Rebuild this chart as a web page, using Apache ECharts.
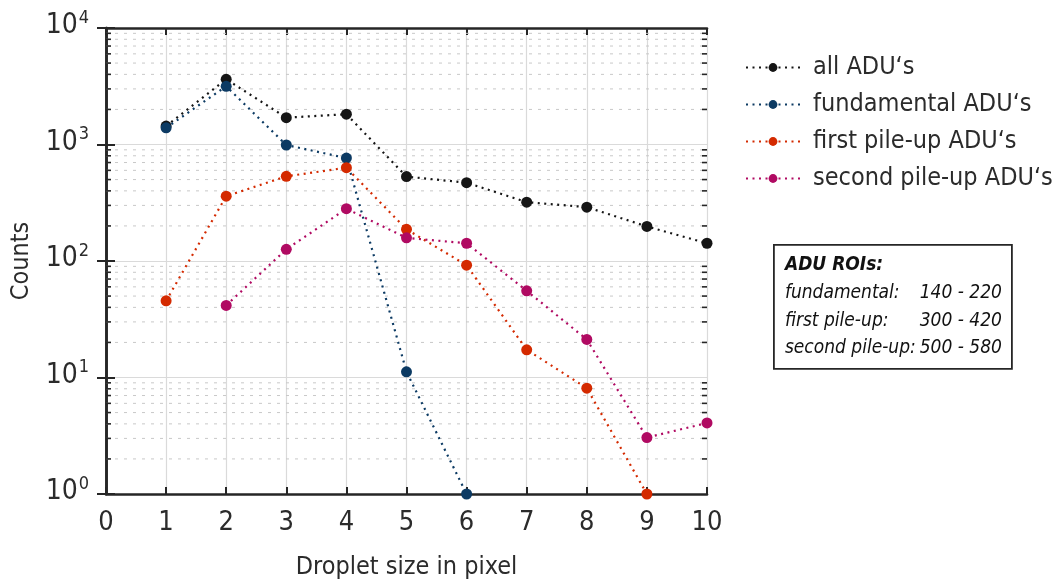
<!DOCTYPE html>
<html>
<head>
<meta charset="utf-8">
<script src="https://cdn.jsdelivr.net/npm/echarts@6/dist/echarts.min.js"></script>
<style>html,body{margin:0;padding:0;background:#fff}#c{width:1061px;height:585px}</style>
</head>
<body>
<div id="c"></div>
<script>
const xCats = [1, 2, 3, 4, 5, 6, 7, 8, 9, 10];
const allADU = [1440, 3630, 1700, 1820, 530, 470, 320, 290, 198, 142];
const fundADU = [1390, 3160, 990, 765, 11.2, 1, null, null, null, null];
const firstADU = [45.5, 360, 533, 632, 187, 92, 17.3, 8.1, 1, null];
const secondADU = [null, 41.6, 126, 281, 158, 142, 55.5, 21.2, 3.05, 4.07];
const seriesNames = ["all ADU\u2018s", "fundamental ADU\u2018s", "first pile-up ADU\u2018s", "second pile-up ADU\u2018s"];
const seriesColors = ["#151515", "#0c3a63", "#d42a00", "#b00a62"];
const yMinorValues = [2,3,4,5,6,7,8,9,20,30,40,50,60,70,80,90,200,300,400,500,600,700,800,900,2000,3000,4000,5000,6000,7000,8000,9000];
const roiLines = [["fundamental:", "140 - 220"], ["first pile-up:", "300 - 420"], ["second pile-up:", "500 - 580"]];

const FONT = '"DejaVu Sans Condensed", "Liberation Sans Narrow", "Open Sans", sans-serif';
const chart = echarts.init(document.getElementById('c'), null, {renderer: 'canvas'});

function pair(arr) { return xCats.map((x, i) => [x, arr[i]]); }
const datasets = [allADU, fundADU, firstADU, secondADU];

const lineSeries = datasets.map((d, i) => ({
  name: seriesNames[i],
  type: 'line',
  data: pair(d).filter(p => p[1] !== null),
  symbol: 'circle',
  symbolSize: 11,
  clip: false,
  z: 5 + i,
  itemStyle: {color: seriesColors[i]},
  lineStyle: {color: seriesColors[i], width: 2.2, type: [2, 4.5]}
}));

const minorSeries = {
  type: 'custom',
  silent: true,
  z: 1,
  data: yMinorValues.map(v => [0, v]),
  renderItem: function (params, api) {
    const v = api.value(1);
    const p0 = api.coord([0, v]);
    const p1 = api.coord([10, v]);
    return {
      type: 'group',
      children: [
        {type: 'line', shape: {x1: p0[0], y1: p0[1], x2: p1[0], y2: p1[1]},
         style: {stroke: '#c8c8c8', lineWidth: 1, lineDash: [3, 6]}},
        {type: 'line', shape: {x1: p0[0], y1: p0[1], x2: p0[0] + 5, y2: p0[1]},
         style: {stroke: '#262626', lineWidth: 1.6}},
        {type: 'line', shape: {x1: p1[0], y1: p1[1], x2: p1[0] - 5, y2: p1[1]},
         style: {stroke: '#262626', lineWidth: 1.6}}
      ]
    };
  }
};

const axisLineStyle = {show: true, lineStyle: {color: '#262626', width: 2.6}};

const option = {
  animation: false,
  backgroundColor: '#ffffff',
  textStyle: {fontFamily: FONT},
  grid: {left: 106, right: 354, top: 28, bottom: 91, containLabel: false},
  legend: {
    data: seriesNames,
    orient: 'vertical',
    left: 740,
    top: 50,
    itemWidth: 54,
    itemHeight: 11,
    itemGap: 12,
    textStyle: {fontFamily: FONT, fontSize: 25, color: '#2b2b2b', padding: [0, 0, 0, 8]}
  },
  xAxis: [{
    type: 'value', min: 0, max: 10, interval: 1,
    name: 'Droplet size in pixel', nameLocation: 'middle', nameGap: 61,
    nameTextStyle: {fontFamily: FONT, fontSize: 25, color: '#2b2b2b'},
    axisLine: axisLineStyle,
    axisTick: {show: true, inside: true, length: 7, lineStyle: {color: '#262626', width: 2}},
    axisLabel: {fontFamily: FONT, fontSize: 27, color: '#2b2b2b', margin: 15},
    splitLine: {show: true, lineStyle: {color: '#dadada', width: 1.2}}
  }, {
    type: 'value', min: 0, max: 10, interval: 1, position: 'top',
    axisLine: axisLineStyle,
    axisTick: {show: true, inside: true, length: 7, lineStyle: {color: '#262626', width: 2}},
    axisLabel: {show: false},
    splitLine: {show: false}
  }],
  yAxis: [{
    type: 'log', logBase: 10, min: 1, max: 10000,
    name: 'Counts', nameLocation: 'middle', nameGap: 72, nameRotate: 90,
    nameTextStyle: {fontFamily: FONT, fontSize: 25, color: '#2b2b2b'},
    axisLine: axisLineStyle,
    axisTick: {show: true, inside: true, length: 9, lineStyle: {color: '#262626', width: 2}},
    axisLabel: {
      margin: 17,
      formatter: function (v) { return '{b|10}{s|' + Math.round(Math.log10(v)) + '}'; },
      rich: {
        b: {fontFamily: FONT, fontSize: 28, color: '#2b2b2b', padding: [0, 0, 4, 0]},
        s: {fontFamily: FONT, fontSize: 18, color: '#2b2b2b', padding: [0, 0, 20, 1]}
      }
    },
    splitLine: {show: true, lineStyle: {color: '#dadada', width: 1.2}}
  }, {
    type: 'log', logBase: 10, min: 1, max: 10000, position: 'right',
    axisLine: axisLineStyle,
    axisTick: {show: true, inside: true, length: 9, lineStyle: {color: '#262626', width: 2}},
    axisLabel: {show: false},
    splitLine: {show: false}
  }],
  graphic: [{
    type: 'group', left: 773, top: 244,
    children: [
      {type: 'rect', shape: {x: 0, y: 0, width: 238, height: 124},
       style: {fill: '#fff', stroke: '#262626', lineWidth: 1.8}},
      {type: 'text', x: 11, y: 11,
       style: {text: 'ADU ROIs:', fontFamily: FONT, fontSize: 19, fontStyle: 'italic', fontWeight: 'bold', fill: '#111'}},
    ].concat(roiLines.flatMap((r, i) => [
      {type: 'text', x: 11, y: 39 + i * 27.5,
       style: {text: r[0], fontFamily: FONT, fontSize: 19, fontStyle: 'italic', fill: '#111'}},
      {type: 'text', x: 228, y: 39 + i * 27.5,
       style: {text: r[1], fontFamily: FONT, fontSize: 19, fontStyle: 'italic', fill: '#111', align: 'right'}}
    ]))
  }],
  series: [minorSeries].concat(lineSeries)
};
chart.setOption(option);
</script>
</body>
</html>
